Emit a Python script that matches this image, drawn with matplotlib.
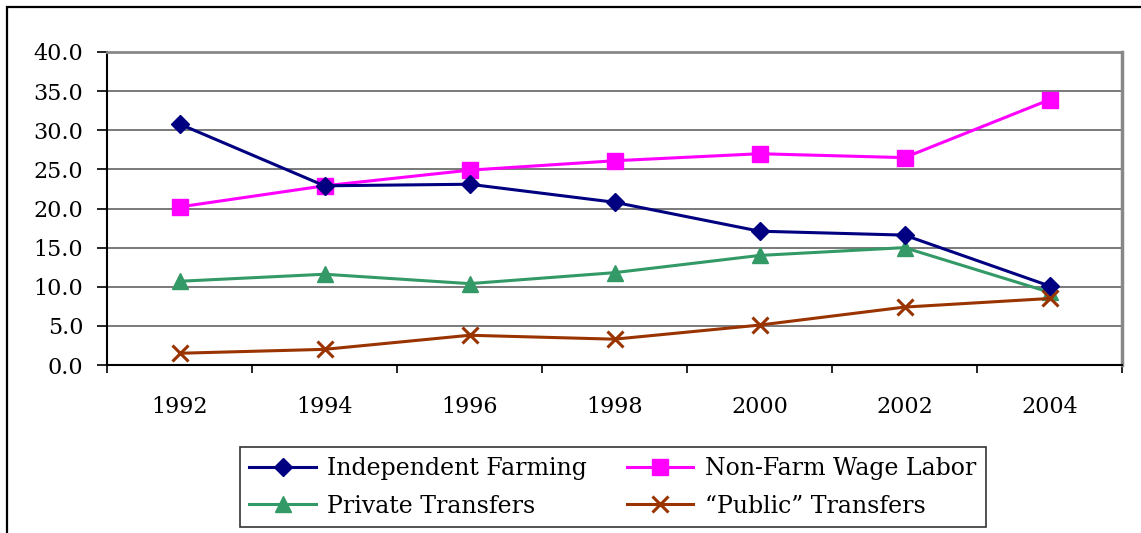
import matplotlib.pyplot as plt
from matplotlib.patches import Rectangle
import numpy as np

# data
years = ['1992', '1994', '1996', '1998', '2000', '2002', '2004']
independent_farming = [30.8, 22.9, 23.1, 20.8, 17.1, 16.6, 10.1]
non_farm_wage = [20.2, 22.9, 24.9, 26.1, 27.0, 26.5, 33.9]
private_transfers = [10.7, 11.6, 10.4, 11.8, 14.0, 15.0, 9.3]
public_transfers = [1.5, 2.0, 3.8, 3.3, 5.1, 7.4, 8.5]

plt.rcParams['font.family'] = ['DejaVu Serif']

fig = plt.figure(figsize=(11.41, 5.33), dpi=100)
ax = fig.add_axes([107 / 1141, 1 - 365 / 533, (1122 - 107) / 1141, (365 - 52) / 533])

x = np.arange(len(years))
lw = 2.2
h1, = ax.plot(x, independent_farming, color='#000080', lw=lw, marker='D', markersize=9,
              label='Independent Farming', clip_on=False, zorder=5)
h2, = ax.plot(x, non_farm_wage, color='#FF00FF', lw=lw, marker='s', markersize=11,
              label='Non-Farm Wage Labor', clip_on=False, zorder=4)
h3, = ax.plot(x, private_transfers, color='#339966', lw=lw, marker='^', markersize=11,
              label='Private Transfers', clip_on=False, zorder=4)
h4, = ax.plot(x, public_transfers, color='#993300', lw=lw, marker='x', markersize=11,
              markeredgewidth=2.2, label='\u201cPublic\u201d Transfers', clip_on=False, zorder=4)

# axes, ticks and grid
ax.set_ylim(0, 40)
ax.set_xlim(-0.5, len(years) - 0.5)
ax.set_yticks(np.arange(0, 40.1, 5))
ax.set_yticklabels([f'{v:.1f}' for v in np.arange(0, 40.1, 5)], fontsize=16)
ax.tick_params(axis='y', direction='out', length=7, width=1.2, pad=10, color='black')
ax.set_xticks(np.arange(-0.5, len(years)), labels=[''] * (len(years) + 1))
ax.tick_params(axis='x', which='major', direction='out', length=6, width=1.2, color='black')
ax.set_xticks(x, labels=years, minor=True)
ax.tick_params(axis='x', which='minor', length=0, pad=22, labelsize=16)
ax.yaxis.grid(True, color='#6e6e6e', lw=1.3)
ax.set_axisbelow(True)

ax.spines['left'].set_color('black')
ax.spines['left'].set_linewidth(1.5)
ax.spines['bottom'].set_color('black')
ax.spines['bottom'].set_linewidth(1.5)
ax.spines['top'].set_color('#888888')
ax.spines['top'].set_linewidth(2)
ax.spines['right'].set_color('#888888')
ax.spines['right'].set_linewidth(2.5)

# outer frame (cut off at right and bottom like the original)
fig.patches.append(Rectangle((7 / 1141, -0.2), 1.2, 1.2 - 7 / 533, transform=fig.transFigure,
                             fill=False, edgecolor='black', lw=1.6))

leg = fig.legend(handles=[h1, h3, h2, h4], ncol=2, loc='lower left',
                 bbox_to_anchor=(240 / 1141, 6 / 533),
                 fontsize=17, frameon=True, fancybox=False, edgecolor='black',
                 handlelength=2.8, borderaxespad=0, labelspacing=0.62, columnspacing=1.7,
                 handletextpad=0.5, borderpad=0.4)
leg.get_frame().set_linewidth(1.2)

plt.savefig('out.png', dpi=100)
plt.close()
